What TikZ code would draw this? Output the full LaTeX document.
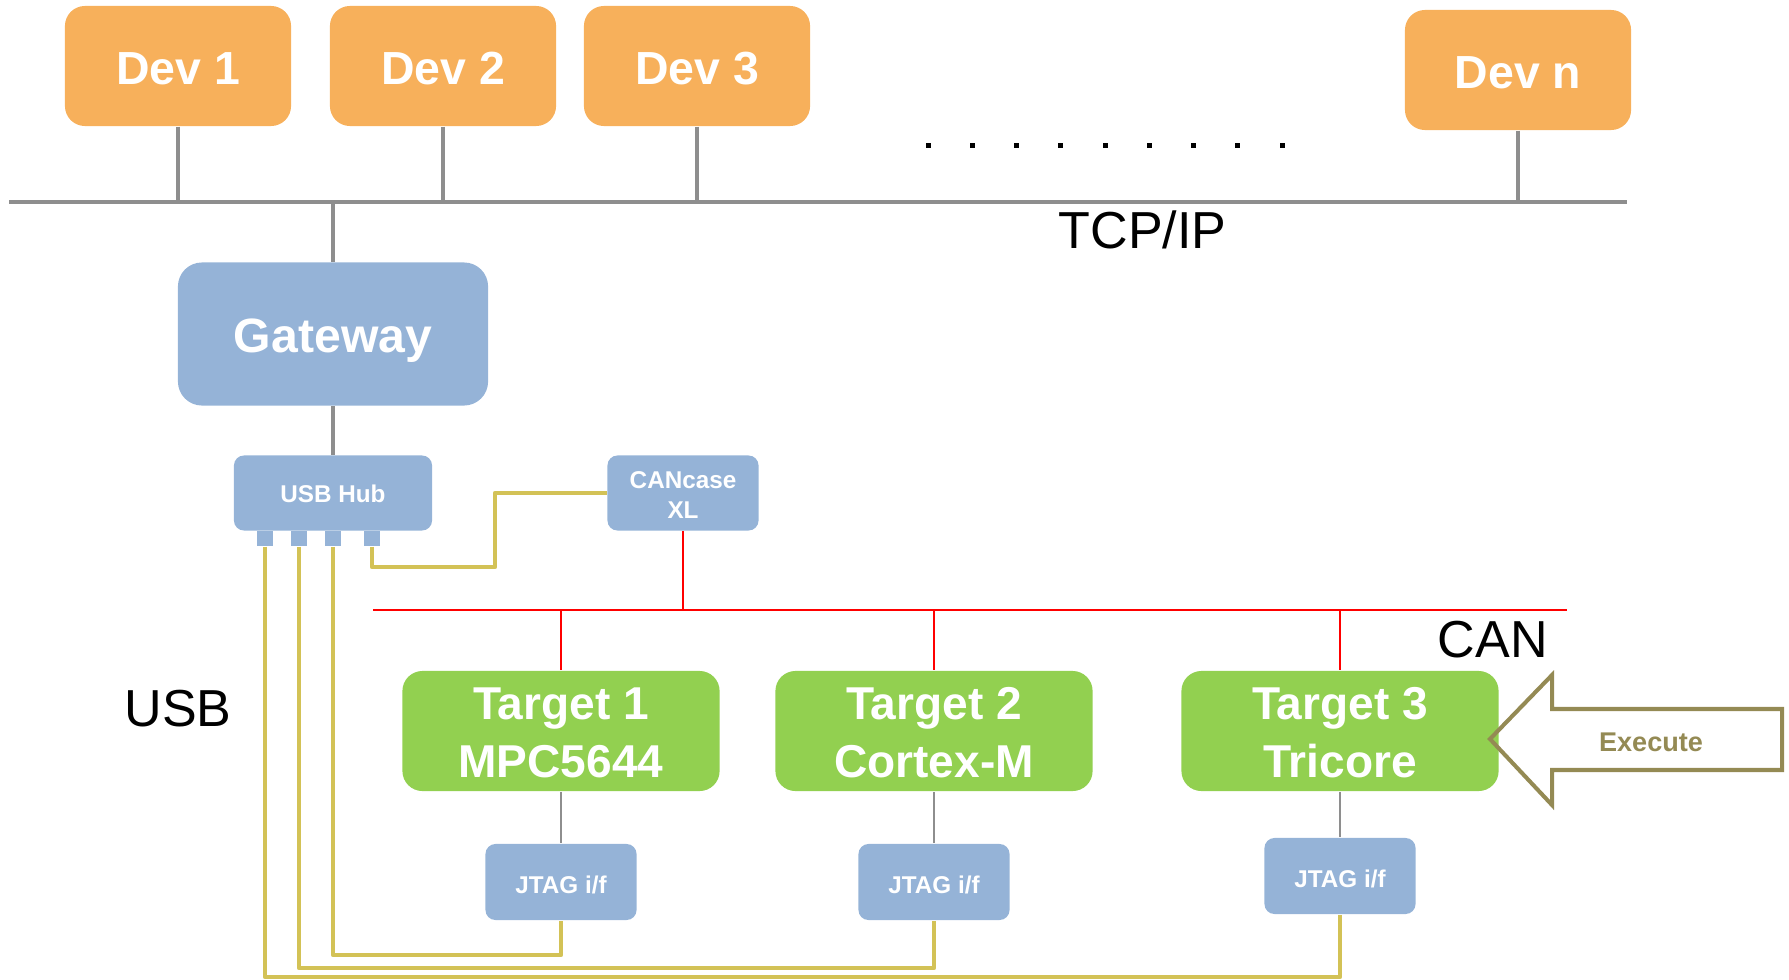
\documentclass[tikz,border=0pt]{standalone}
\usepackage{fontspec}
\setmainfont{Liberation Sans}
\definecolor{devorange}{RGB}{247,176,91}
\definecolor{hwblue}{RGB}{149,179,215}
\definecolor{tgtgreen}{RGB}{146,208,80}
\definecolor{netgray}{RGB}{142,142,142}
\definecolor{usbyellow}{RGB}{211,194,86}
\definecolor{execolive}{RGB}{148,138,84}
\begin{document}
\begin{tikzpicture}[x=0.01cm,y=-0.01cm,
  devbox/.style={fill=devorange, rounded corners=0.2cm, minimum width=2.26cm,
    minimum height=1.2cm, inner sep=0pt, text=white,
    text height=10.6pt, text depth=0pt,
    font=\bfseries\fontsize{13.2}{15}\selectfont},
  gwbox/.style={fill=hwblue, rounded corners=0.24cm, minimum width=3.1cm,
    minimum height=1.43cm, inner sep=0pt, text=white,
    text height=10.4pt, text depth=0pt,
    font=\bfseries\fontsize{13.7}{16}\selectfont},
  smallbox/.style={fill=hwblue, rounded corners=0.1cm, inner sep=0pt,
    text=white, align=center, font=\bfseries\fontsize{6.9}{8.5}\selectfont},
  portbox/.style={fill=hwblue, minimum width=0.16cm, minimum height=0.15cm,
    inner sep=0pt},
  tgtbox/.style={fill=tgtgreen, rounded corners=0.2cm, minimum width=3.17cm,
    minimum height=1.2cm, inner sep=0pt, text=white, align=center,
    text height=26.6pt, text depth=0pt,
    font=\bfseries\fontsize{13.1}{16.5}\selectfont},
  netlabel/.style={inner sep=0pt, anchor=base west,
    font=\fontsize{14.8}{17}\selectfont},
  ethernet/.style={draw=netgray, line width=1.4pt},
  jtaglink/.style={draw=netgray, line width=0.55pt},
  canbus/.style={draw=red, line width=0.6pt},
  usb/.style={draw=usbyellow, line width=1.2pt, line join=round}
]
\useasboundingbox (0,0) rectangle (1789,979);

% TCP/IP network
\coordinate (busW) at (9,202);
\coordinate (busE) at (1627,202);
\draw[ethernet] (busW) -- (busE);

\node[devbox] (dev1) at (178,66) {Dev 1};
\node[devbox] (dev2) at (443,66) {Dev 2};
\node[devbox] (dev3) at (697,66) {Dev 3};
\node[devbox] (devn) at (1518,70) {Dev n};

\foreach \d in {dev1,dev2,dev3,devn}
  \draw[ethernet] (\d.south) -- (\d.south |- busW);

\foreach \i in {0,...,8}
  \fill (928+44.25*\i-2.5,143.5) rectangle ++(5,5);

\node[netlabel] (tcplbl) at (1058,248) {TCP/IP};

% Gateway and hub
\node[gwbox] (gw) at (333,334) {Gateway};
\draw[ethernet] (gw.north) -- (gw.north |- busW);

\node[smallbox, minimum width=1.98cm, minimum height=0.75cm,
  text height=5.5pt, text depth=0pt] (hub) at (333,493) {USB Hub};
\draw[ethernet] (gw.south) -- (hub.north);

\node[portbox] (p1) at (265,538.5) {};
\node[portbox] (p2) at (299,538.5) {};
\node[portbox] (p3) at (333,538.5) {};
\node[portbox] (p4) at (372,538.5) {};

\node[smallbox, minimum width=1.51cm, minimum height=0.75cm,
  text height=14.6pt, text depth=0pt] (cc) at (683,493) {CANcase\\XL};

% CAN bus
\coordinate (canW) at (373,610);
\coordinate (canE) at (1567,610);
\draw[canbus] (canW) -- (canE);
\draw[canbus] (cc.south) -- (cc.south |- canW);
\node[netlabel] (canlbl) at (1437,657) {CAN};

% Targets
\node[tgtbox] (t1) at (561,731) {Target 1\\MPC5644};
\node[tgtbox] (t2) at (934,731) {Target 2\\Cortex-M};
\node[tgtbox] (t3) at (1340,731) {Target 3\\Tricore};

\foreach \t in {t1,t2,t3}
  \draw[canbus] (\t.north |- canW) -- (\t.north);

% Debug interfaces
\tikzset{jtagbox/.style={smallbox, minimum width=1.51cm, minimum height=0.76cm,
  text height=6.6pt, text depth=0pt}}
\node[jtagbox] (j1) at (561,882) {JTAG i/f};
\node[jtagbox] (j2) at (934,882) {JTAG i/f};
\node[jtagbox] (j3) at (1340,876) {JTAG i/f};

\draw[jtaglink] (t1.south) -- (j1.north);
\draw[jtaglink] (t2.south) -- (j2.north);
\draw[jtaglink] (t3.south) -- (j3.north);

% USB wiring
\node[netlabel] (usblbl) at (124,726) {USB};
\coordinate (bend) at (495,567);
\draw[usb] (p4.south) |- (bend) |- (cc.west);
\coordinate (rail3) at (0,955);
\coordinate (rail2) at (0,968);
\coordinate (rail1) at (0,977);
\draw[usb] (p3.south) -- (p3.south |- rail3) -| (j1.south);
\draw[usb] (p2.south) -- (p2.south |- rail2) -| (j2.south);
\draw[usb] (p1.south) -- (p1.south |- rail1) -| (j3.south);

% Execute arrow
\draw[draw=execolive, line width=1.15pt, line join=miter]
  (1490,739) -- (1552,675) -- (1552,709) -- (1782,709) -- (1782,770)
  -- (1552,770) -- (1552,805) -- cycle;
\node[inner sep=0pt, text=execolive, text height=6.6pt, text depth=0pt,
  font=\bfseries\fontsize{7.7}{9}\selectfont]
  (exec) at (1651,740) {Execute};
\end{tikzpicture}
\end{document}
